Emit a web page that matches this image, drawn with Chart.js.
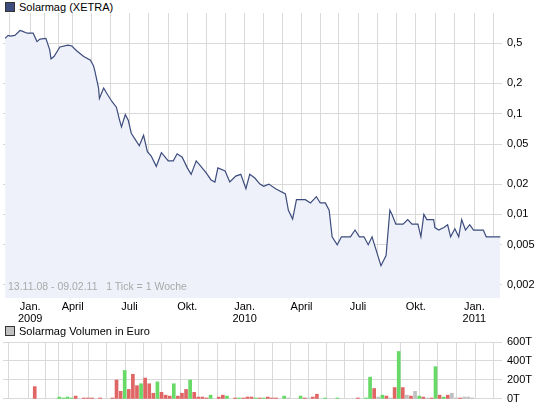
<!DOCTYPE html>
<html><head><meta charset="utf-8">
<script src="https://cdn.jsdelivr.net/npm/chart.js@4"></script>
<style>
body{margin:0;background:#fff;font-family:"Liberation Sans",Arial,sans-serif}
#wrap{position:relative;width:545px;height:410px}
.box{position:absolute}
.leg{position:absolute;font-size:11px;color:#000;left:5px}
.leg span{display:inline-block;width:8px;height:8px;border:1px solid #333;margin-right:4px;vertical-align:-1px}
#note{position:absolute;left:8px;top:280px;font-size:10.5px;color:#aaa}
</style></head>
<body>
<div id="wrap">
<div class="leg" style="top:1px"><span style="background:#3c4c7c"></span>Solarmag (XETRA)</div>
<div class="box" style="left:0;top:320px;width:545px;height:90px"><canvas id="volChart"></canvas></div>
<div class="box" style="left:0;top:0;width:545px;height:324px"><canvas id="priceChart"></canvas></div>
<div id="note">13.11.08 - 09.02.11 &nbsp; 1 Tick = 1 Woche</div>
<div class="leg" style="top:325px"><span style="background:#c0c0c0"></span>Solarmag Volumen in Euro</div>
</div>
<script>
// price: week index since 13.11.08, closing price in euro
let priceWeeks = [0,0.7,1.2,2.3,3.5,4,5.2,6.6,7.5,8.2,9.6,10.5,10.8,11.5,12.9,14.8,15.7,16.9,18.5,20.1,20.8,21.1,22,22.2,23.2,24.1,25.1,26.2,26.9,27.4,28.3,29,29.7,30.7,31.6,32.6,33.5,34.4,35.6,36.8,37.5,38.4,39.6,40.5,41.7,42.9,43.8,45,46.1,47.3,48.5,49.4,50.1,51.8,52.9,54.3,55.5,56.7,57.6,58.8,60,60.9,62.1,63.7,66,66.7,67.7,68.6,70.7,71.9,73.3,74.2,75.4,76.3,77,78.2,79.2,81.3,82.4,83.4,84.5,85.5,86.4,87.6,88.5,89.7,90.6,91.1,92,93.7,94.8,95.8,97.2,97.9,98.6,99.3,100.9,101.2,102.1,103.3,104.2,104.9,105.9,106.8,107.5,108.4,109.4,110.3,112.6,113.3,116.6]
let prices = [.56,.60,.59,.60,.67,.66,.63,.63,.52,.55,.56,.43,.35,.37,.46,.48,.47,.42,.37,.34,.30,.27,.18,.142,.18,.155,.133,.116,.088,.074,.098,.086,.064,.055,.048,.061,.042,.038,.030,.041,.038,.034,.034,.040,.037,.029,.025,.034,.030,.026,.022,.021,.029,.027,.021,.024,.025,.018,.025,.023,.020,.019,.020,.018,.016,.011,.009,.014,.014,.013,.015,.013,.013,.011,.006,.005,.006,.006,.007,.006,.006,.005,.006,.0041,.0031,.0039,.011,.010,.008,.008,.0089,.008,.008,.006,.010,.0089,.0089,.0074,.007,.0074,.0079,.006,.0072,.006,.0089,.007,.0079,.007,.007,.006,.006]

// volume: week index, thousand euro, direction (1 up, -1 down, 0 flat)
let volWeeks = [5,11,12,13,14,15,17,18,19,21,24,25,26,27,28,29,30,31,32,33,34,35,36,37,38,39,40,41,42,43,44,45,46,47,48,50,51,52,54,55,56,57,58,59,60,61,62,63,64,66,67,70,71,72,73,74,76,79,84,86,87,88,89,90,91,92,93,94,95,96,97,98,99,100,101,102,103,104,105,106,107,108,109,110,111,112]
let volumes = [130,20,10,20,10,30,10,10,10,10,10,200,80,300,100,260,140,160,220,160,60,180,70,40,30,160,30,60,100,200,70,20,20,10,40,20,40,30,10,10,10,20,20,10,10,10,20,10,10,30,10,30,10,10,20,50,10,10,10,10,230,110,20,40,30,10,120,500,120,40,30,80,30,20,10,10,340,40,20,40,60,10,10,20,20,10]
let volDir = [-1,1,1,1,1,-1,-1,-1,-1,-1,-1,-1,-1,1,-1,-1,-1,1,-1,-1,-1,1,-1,-1,-1,1,-1,-1,-1,1,-1,-1,-1,-1,1,-1,-1,1,-1,1,-1,-1,-1,1,-1,1,-1,-1,-1,1,0,1,-1,0,-1,-1,1,1,-1,1,1,-1,0,1,-1,0,-1,1,-1,0,-1,0,1,-1,0,-1,1,-1,1,-1,0,0,-1,0,0,0]

// month gridlines (week positions) and quarter labels
let monthWeeks = [1,5.9,9.2,12.6,15.9,20.4,24.9,29.3,33.8,38.4,42.9,47.4,51.9,56.4,60.9,65.3,69.8,74.2,78.6,83.1,87.6,92.1,96.7,101.3,105.9,110.5,115]
let monthLabels = {"5.9":["Jan.","2009"],"15.9":["April"],"29.3":["Juli"],"42.9":["Okt."],"56.4":["Jan.","2010"],"69.8":["April"],"83.1":["Juli"],"96.7":["Okt."],"110.5":["Jan.","2011"]}
let priceTicks = [0.5,0.2,0.1,0.05,0.02,0.01,0.005,0.002]

let font = {family:"Liberation Sans, Arial, sans-serif", size:11, lineHeight:1.1}
let gridColor = "#d9d9d9"

function xScale(showLabels){
return {
type:"linear", min:-0.5, max:117,
grid:{color:gridColor, drawTicks:false},
border:{display:false},
afterBuildTicks:s=>{ s.ticks = monthWeeks.map(v=>({value:v})) },
afterFit:s=>{ s.height = showLabels ? 26 : 9 },
ticks:{display:showLabels, font:font, color:"#000", padding:3, autoSkip:false, maxRotation:0,
callback:v=>monthLabels[String(v)] || ""}
}
}

new Chart(document.getElementById("priceChart"),{
type:"line",
data:{datasets:[{
data:priceWeeks.map((w,i)=>({x:w,y:prices[i]})),
borderColor:"#3c4c7c", borderWidth:1.2, pointRadius:0, tension:0,
fill:"start", backgroundColor:"#eef1fa"
}]},
options:{
responsive:true, maintainAspectRatio:false, animation:false,
layout:{padding:{top:13,left:3,right:0}},
plugins:{legend:{display:false}, tooltip:{enabled:false}},
scales:{
x:xScale(true),
y:{type:"logarithmic", position:"right", min:0.00148, max:1.0,
grid:{color:gridColor, drawTicks:false}, border:{display:false},
afterBuildTicks:s=>{ s.ticks = priceTicks.map(v=>({value:v})) },
afterFit:s=>{ s.width = 43 },
ticks:{font:font, color:"#000", padding:5, callback:v=>String(v).replace(".",",")}}
}
}
})

new Chart(document.getElementById("volChart"),{
type:"bar",
data:{datasets:[{
data:volWeeks.map((w,i)=>({x:w,y:volumes[i]})),
backgroundColor:volDir.map(d=>d>0?"#66d966":d<0?"#e06666":"#c0c0c0"),
barThickness:3, categoryPercentage:1, barPercentage:1
}]},
options:{
responsive:true, maintainAspectRatio:false, animation:false,
layout:{padding:{top:22,left:3,right:0}},
plugins:{legend:{display:false}, tooltip:{enabled:false}},
scales:{
x:xScale(false),
y:{position:"right", min:0, max:600,
grid:{color:gridColor, drawTicks:false}, border:{display:false},
afterFit:s=>{ s.width = 43 },
ticks:{stepSize:200, font:font, color:"#000", padding:5, callback:v=>v+"T"}}
}
}
})
</script>
</body></html>
